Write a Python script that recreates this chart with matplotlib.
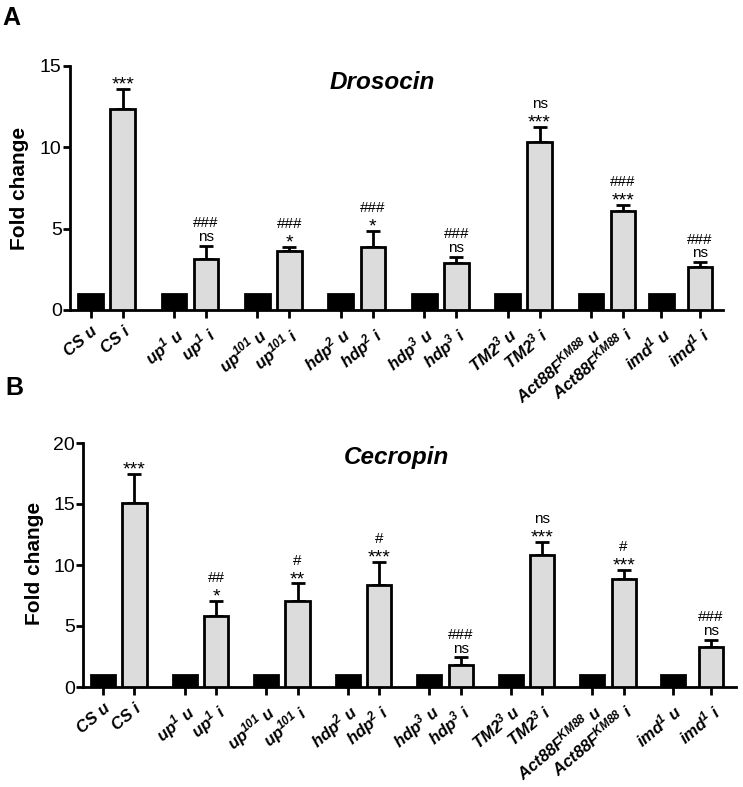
import numpy as np
import matplotlib
matplotlib.use("Agg")
import matplotlib.pyplot as plt

plt.rcParams['font.family'] = ['Liberation Sans', 'DejaVu Sans']
plt.rcParams['mathtext.fontset'] = 'custom'
plt.rcParams['mathtext.it'] = 'Liberation Sans:italic:bold'
plt.rcParams['mathtext.rm'] = 'Liberation Sans:italic:bold'
plt.rcParams['mathtext.bf'] = 'Liberation Sans:italic:bold'
plt.rcParams['mathtext.default'] = 'it'

# ---------------- data ----------------
strains = ["CS", "up$^{1}$", "up$^{101}$", "hdp$^{2}$", "hdp$^{3}$",
           "TM2$^{3}$", "Act88F$^{KM88}$", "imd$^{1}$"]
tick_labels = []
for s in strains:
    tick_labels += [s + " u", s + " i"]

# Drosocin (panel A)
dro_u = [1, 1, 1, 1, 1, 1, 1, 1]
dro_i = [12.35, 3.15, 3.63, 3.85, 2.90, 10.30, 6.08, 2.62]
dro_i_err = [1.22, 0.80, 0.27, 1.02, 0.35, 0.95, 0.37, 0.31]
dro_sig_low = ["***", "ns", "*", "*", "ns", "***", "***", "ns"]
dro_sig_high = ["", "###", "###", "###", "###", "ns", "###", "###"]

# Cecropin (panel B)
cec_u = [1, 1, 1, 1, 1, 1, 1, 1]
cec_i = [15.10, 5.78, 7.05, 8.33, 1.77, 10.80, 8.84, 3.25]
cec_i_err = [2.38, 1.29, 1.45, 1.95, 0.65, 1.08, 0.76, 0.60]
cec_sig_low = ["***", "*", "**", "***", "ns", "***", "***", "ns"]
cec_sig_high = ["", "##", "#", "#", "###", "ns", "#", "###"]

GRAY = "#dcdcdc"

fig = plt.figure(figsize=(7.43, 7.87), dpi=100)


def positions(group_step, last_gap, last_pair):
    us, is_ = [], []
    for g in range(7):
        us.append(g * group_step)
        is_.append(g * group_step + 1)
    u_last = 6 * group_step + last_gap
    us.append(u_last)
    is_.append(u_last + last_pair)
    return np.array(us), np.array(is_)


def panel(rect, u_vals, i_vals, i_err, low, high, ymax, title, title_xy,
          group_step, last_gap, last_pair, xlim):
    ax = fig.add_axes(rect)
    xu, xi = positions(group_step, last_gap, last_pair)
    w = 0.77
    ax.bar(xu, u_vals, width=w, color="black", edgecolor="black",
           linewidth=2, zorder=3)
    ax.bar(xi, i_vals, width=w, color=GRAY, edgecolor="black",
           linewidth=2, zorder=3)
    ax.errorbar(xi, i_vals, yerr=[np.zeros(len(i_vals)), i_err], fmt="none",
                ecolor="black", elinewidth=2, capsize=5, capthick=2,
                zorder=2)
    tops = np.array(i_vals) + np.array(i_err)
    for x, t, lo, hi in zip(xi, tops, low, high):
        off_lo = -0.5 if "*" in lo else 3.5
        fs_lo = 14 if "*" in lo else 11
        ax.annotate(lo, xy=(x, t), xytext=(0, off_lo),
                    textcoords="offset points", ha="center",
                    va="baseline", fontsize=fs_lo)
        if hi:
            fs_hi = 14 if "*" in hi else 11
            ax.annotate(hi, xy=(x, t), xytext=(0, 13.5),
                        textcoords="offset points", ha="center",
                        va="baseline", fontsize=fs_hi)
    ax.set_xlim(*xlim)
    ax.set_ylim(0, ymax)
    ax.set_yticks(np.arange(0, ymax + 1, 5))
    ax.tick_params(axis="y", labelsize=14, length=5, width=2, pad=1)
    xs = np.ravel(np.column_stack([xu, xi]))
    ax.set_xticks(xs)
    ax.set_xticklabels(tick_labels, rotation=40, ha="right", va="top",
                       rotation_mode="anchor", fontsize=12,
                       fontweight="bold", fontstyle="italic")
    ax.tick_params(axis="x", length=6, width=2, pad=4)
    for s in ["top", "right"]:
        ax.spines[s].set_visible(False)
    for s in ["left", "bottom"]:
        ax.spines[s].set_linewidth(2)
    ax.patch.set_alpha(0)
    fig.text(title_xy[0], title_xy[1], title, ha="center", va="baseline",
             fontsize=17.5, fontweight="bold", fontstyle="italic")
    return ax


W, H = 743.0, 787.0
panel([70 / W, 1 - 310 / H, 653 / W, 244 / H], dro_u, dro_i, dro_i_err,
      dro_sig_low, dro_sig_high, 15, "Drosocin", (382 / W, 1 - 89 / H),
      2.6, 2.2, 1.2, (-0.645, 19.72))
panel([83.3 / W, 1 - 687 / H, 653 / W, 244 / H], cec_u, cec_i, cec_i_err,
      cec_sig_low, cec_sig_high, 20, "Cecropin", (396 / W, 1 - 464 / H),
      2.597, 2.56, 1.22, (-0.63, 20.17))

fig.text(20 / W, 1 - 188 / H, "Fold change", rotation=90, ha="center",
         va="center", fontsize=15, fontweight="bold")
fig.text(35 / W, 1 - 563 / H, "Fold change", rotation=90, ha="center",
         va="center", fontsize=15, fontweight="bold")
fig.text(2 / W, 1 - 6 / H, "A", ha="left", va="top", fontsize=18,
         fontweight="bold")
fig.text(5 / W, 1 - 376 / H, "B", ha="left", va="top", fontsize=18,
         fontweight="bold")

fig.savefig("out.png", dpi=100)
